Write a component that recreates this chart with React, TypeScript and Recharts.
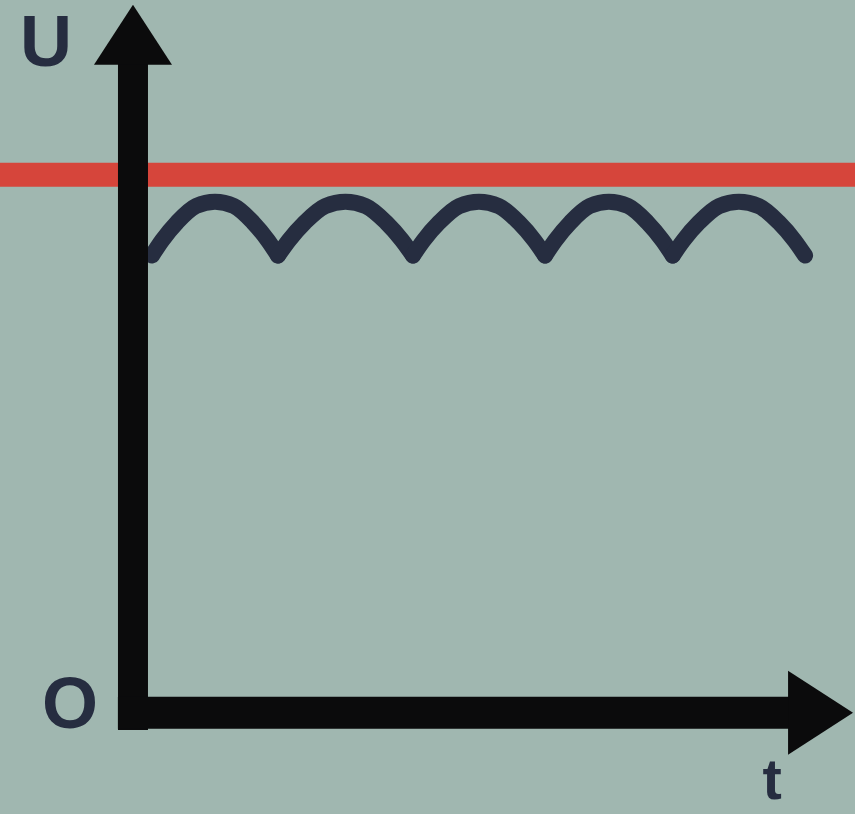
import React from "react";
import { LineChart, Line, XAxis, YAxis, ReferenceLine, ReferenceDot } from "recharts";

// time in ms, voltage in V
const cusps = [1.45, 11.07, 21.37, 31.45, 41.2, 51.3];
const archFractions = [0, 0.08, 0.2, 0.35, 0.5, 0.65, 0.8, 0.92, 1];
const archValues = [8.5, 8.78, 9.12, 9.42, 9.5, 9.42, 9.12, 8.78, 8.5];
const supplyLevel = 10;
const axisLabels = [
  { text: "U", t: -6.64, u: 12.02, size: 72 },
  { text: "O", t: -4.81, u: -0.28, size: 72 },
  { text: "t", t: 48.78, u: -1.6, size: 58 },
];

const archKeys = cusps.slice(0, -1).map((_, i) => `a${i}`);

const data: Record<string, number | null>[] = [];
cusps.slice(0, -1).forEach((start, i) => {
  const end = cusps[i + 1];
  archFractions.forEach((f, j) => {
    const t = start + (end - start) * f;
    const existing = data.find((r) => Math.abs((r.t as number) - t) < 1e-9);
    if (existing) {
      existing[`a${i}`] = archValues[j];
    } else {
      const row: Record<string, number | null> = { t };
      archKeys.forEach((k) => (row[k] = null));
      row[`a${i}`] = archValues[j];
      data.push(row);
    }
  });
});

const BG = "#a0b7b0";
const INK = "#0b0b0c";
const NAVY = "#262d40";

function ArrowAxis(props: any) {
  const { x1, y1, x2, y2, headLen, headHalf, thick } = props;
  const dx = x2 - x1;
  const dy = y2 - y1;
  const len = Math.hypot(dx, dy);
  const ux = dx / len;
  const uy = dy / len;
  const bx = x2 - ux * headLen;
  const by = y2 - uy * headLen;
  const px = -uy;
  const py = ux;
  return (
    <g>
      <line x1={x1} y1={y1} x2={bx + ux * 2} y2={by + uy * 2} stroke={INK} strokeWidth={thick} />
      <polygon
        points={`${x2},${y2} ${bx + px * headHalf},${by + py * headHalf} ${bx - px * headHalf},${by - py * headHalf}`}
        fill={INK}
      />
    </g>
  );
}

function lineShape(headLen: number, headHalf: number, thick: number) {
  return (p: any) => {
    const [a, b] = p.segment ?? [];
    const x1 = p.x1 ?? a?.x;
    const y1 = p.y1 ?? a?.y;
    const x2 = p.x2 ?? b?.x;
    const y2 = p.y2 ?? b?.y;
    return <ArrowAxis x1={x1} y1={y1} x2={x2} y2={y2} headLen={headLen} headHalf={headHalf} thick={thick} />;
  };
}

export default function App() {
  return (
    <div style={{ position: "absolute", left: 0, top: 0, width: 855, height: 814, background: BG }}>
      <LineChart width={855} height={814} data={data} margin={{ top: 0, right: 0, bottom: 0, left: 0 }}>
        <XAxis type="number" dataKey="t" domain={[-10.15, 55.11]} hide allowDataOverflow />
        <YAxis type="number" domain={[-1.88, 13.25]} hide allowDataOverflow />
        <ReferenceLine y={supplyLevel} stroke="#d6453b" strokeWidth={24} ifOverflow="extendDomain" />
        {archKeys.map((k) => (
          <Line
            key={k}
            dataKey={k}
            type="monotone"
            stroke={NAVY}
            strokeWidth={16}
            strokeLinecap="round"
            dot={false}
            activeDot={false}
            connectNulls={false}
            isAnimationActive={false}
          />
        ))}
        <ReferenceLine
          segment={[
            { x: 0, y: -0.32 },
            { x: 0, y: 13.16 },
          ]}
          shape={lineShape(60, 39, 30)}
        />
        <ReferenceLine
          segment={[
            { x: -1.15, y: 0 },
            { x: 54.96, y: 0 },
          ]}
          shape={lineShape(65, 42, 32)}
        />
        {axisLabels.map((l) => (
          <ReferenceDot
            key={l.text}
            x={l.t}
            y={l.u}
            r={0}
            shape={(p: any) => (
              <text
                x={p.cx}
                y={p.cy}
                textAnchor="middle"
                fill={NAVY}
                fontFamily="Liberation Sans, Arial, sans-serif"
                fontWeight="bold"
                fontSize={l.size}
              >
                {l.text}
              </text>
            )}
          />
        ))}
      </LineChart>
    </div>
  );
}
